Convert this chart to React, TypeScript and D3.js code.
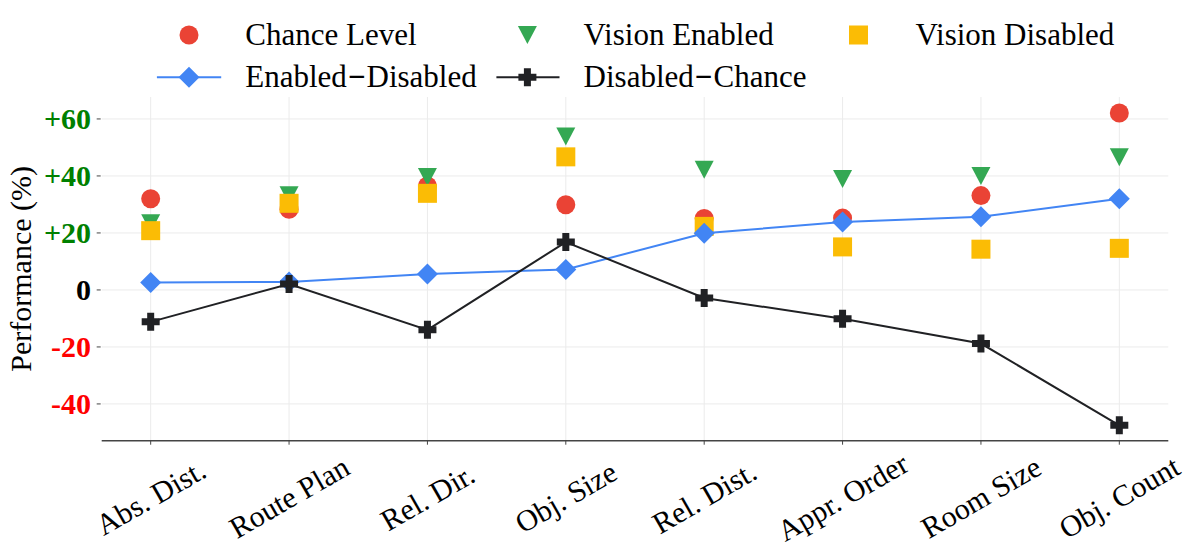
import React from "react";
import * as d3 from "d3";

const categories = ["Abs. Dist.", "Route Plan", "Rel. Dir.", "Obj. Size", "Rel. Dist.", "Appr. Order", "Room Size", "Obj. Count"];
const chanceLevel = [32.0, 28.3, 36.5, 29.9, 25.1, 25.2, 33.1, 62.1];
const visionEnabled = [23.4, 33.2, 39.6, 53.8, 42.2, 38.9, 40.0, 46.6];
const visionDisabled = [20.8, 30.4, 33.9, 46.7, 22.3, 15.1, 14.3, 14.6];
const enabledMinusDisabled = [2.6, 2.8, 5.6, 7.2, 19.9, 23.8, 25.7, 32.0];
const disabledMinusChance = [-11.2, 2.1, -14.0, 16.8, -2.8, -10.1, -18.8, -47.5];
const yTicks = [-40, -20, 0, 20, 40, 60];
const yTickLabels = ["-40", "-20", "0", "+20", "+40", "+60"];

const W = 1196;
const H = 560;
const left = 101.7;
const right = 1168.3;
const top = 97;
const bottom = 440.7;

const RED = "#EA4335";
const GREEN = "#34A853";
const YELLOW = "#FBBC05";
const BLUE = "#4285F4";
const DARK = "#202124";
const FONT = "'Liberation Serif', 'Times New Roman', serif";

const x = d3.scaleLinear().domain([-0.354, categories.length - 1 + 0.354]).range([left, right]);
const y = d3.scaleLinear().domain([-52.9, 67.7]).range([bottom, top]);

const tri = (cx: number, cy: number) => `M${cx - 9.5},${cy - 9}L${cx + 9.5},${cy - 9}L${cx},${cy + 9}Z`;
const diamond = (cx: number, cy: number) => `M${cx},${cy - 10.5}L${cx + 10.5},${cy}L${cx},${cy + 10.5}L${cx - 10.5},${cy}Z`;
const plus = (cx: number, cy: number) => {
  const a = 9, t = 3.5;
  return `M${cx - t},${cy - a}H${cx + t}V${cy - t}H${cx + a}V${cy + t}H${cx + t}V${cy + a}H${cx - t}V${cy + t}H${cx - a}V${cy - t}H${cx - t}Z`;
};

export default function App() {
  const lineGen = d3.line<number>().x((_, i) => x(i)).y((d) => y(d));
  const tickColor = (v: number) => (v > 0 ? "#008000" : v < 0 ? "#ff0000" : "#000000");
  const c1 = 189, t1 = 245.3, c2 = 527.4, t2 = 583.6, c3 = 858.5, t3 = 915.5;
  const r1 = 35, r2 = 77.3;
  return (
    <svg width={W} height={H} style={{ position: "absolute", left: 0, top: 0, background: "#fff" }} fontFamily={FONT}>
      {/* grid */}
      {yTicks.map((t) => (
        <line key={"gy" + t} x1={left} x2={right} y1={y(t)} y2={y(t)} stroke="#ebebeb" strokeWidth={1} />
      ))}
      {categories.map((c, i) => (
        <line key={"gx" + c} x1={x(i)} x2={x(i)} y1={top} y2={bottom} stroke="#ebebeb" strokeWidth={1} />
      ))}
      {/* bottom spine */}
      <line x1={left} x2={right} y1={bottom} y2={bottom} stroke="#444" strokeWidth={1.6} />
      {categories.map((c, i) => (
        <line key={"tx" + c} x1={x(i)} x2={x(i)} y1={bottom} y2={bottom + 4} stroke="#444" strokeWidth={1} />
      ))}
      {/* y ticks */}
      {yTicks.map((t, i) => (
        <g key={"yt" + t}>
          <line x1={left - 5} x2={left - 1} y1={y(t)} y2={y(t)} stroke="#444" strokeWidth={1} />
          <text x={91} y={y(t)} dy="0.35em" textAnchor="end" fontWeight="bold" fontSize={30} fill={tickColor(t)}>
            {yTickLabels[i]}
          </text>
        </g>
      ))}
      {/* y label */}
      <text transform={`translate(31,${(top + bottom) / 2}) rotate(-90)`} textAnchor="middle" fontSize={30} fill="#000">
        Performance (%)
      </text>
      {/* x labels */}
      {categories.map((c, i) => (
        <text key={"xl" + c} transform={`translate(${x(i)},497) rotate(-30)`} textAnchor="middle" dominantBaseline="central" fontSize={30} fill="#000">
          {c}
        </text>
      ))}
      {/* markers */}
      {chanceLevel.map((v, i) => (
        <circle key={"c" + i} cx={x(i)} cy={y(v)} r={9.5} fill={RED} />
      ))}
      {visionEnabled.map((v, i) => (
        <path key={"e" + i} d={tri(x(i), y(v))} fill={GREEN} />
      ))}
      {visionDisabled.map((v, i) => (
        <rect key={"d" + i} x={x(i) - 9.5} y={y(v) - 9.5} width={19} height={19} fill={YELLOW} />
      ))}
      <path d={lineGen(enabledMinusDisabled) || ""} fill="none" stroke={BLUE} strokeWidth={2} />
      {enabledMinusDisabled.map((v, i) => (
        <path key={"ed" + i} d={diamond(x(i), y(v))} fill={BLUE} />
      ))}
      <path d={lineGen(disabledMinusChance) || ""} fill="none" stroke={DARK} strokeWidth={2} />
      {disabledMinusChance.map((v, i) => (
        <path key={"dc" + i} d={plus(x(i), y(v))} fill={DARK} />
      ))}
      {/* legend */}
      <g fontSize={31} fill="#000">
        <circle cx={c1} cy={r1} r={9.5} fill={RED} />
        <text x={t1} y={r1 + 10}>Chance Level</text>
        <path d={tri(c2, r1)} fill={GREEN} />
        <text x={t2} y={r1 + 10}>Vision Enabled</text>
        <rect x={c3 - 9.5} y={r1 - 9.5} width={19} height={19} fill={YELLOW} />
        <text x={t3} y={r1 + 10}>Vision Disabled</text>
        <line x1={156.9} x2={221.2} y1={r2} y2={r2} stroke={BLUE} strokeWidth={2} />
        <path d={diamond(c1, r2)} fill={BLUE} />
        <text x={t1} y={r2 + 10}>Enabled<tspan fontWeight="bold" dx="1">−</tspan><tspan dx="1">Disabled</tspan></text>
        <line x1={496.4} x2={559.5} y1={r2} y2={r2} stroke={DARK} strokeWidth={2} />
        <path d={plus(c2, r2)} fill={DARK} />
        <text x={t2} y={r2 + 10}>Disabled<tspan fontWeight="bold" dx="1">−</tspan><tspan dx="1">Chance</tspan></text>
      </g>
    </svg>
  );
}
